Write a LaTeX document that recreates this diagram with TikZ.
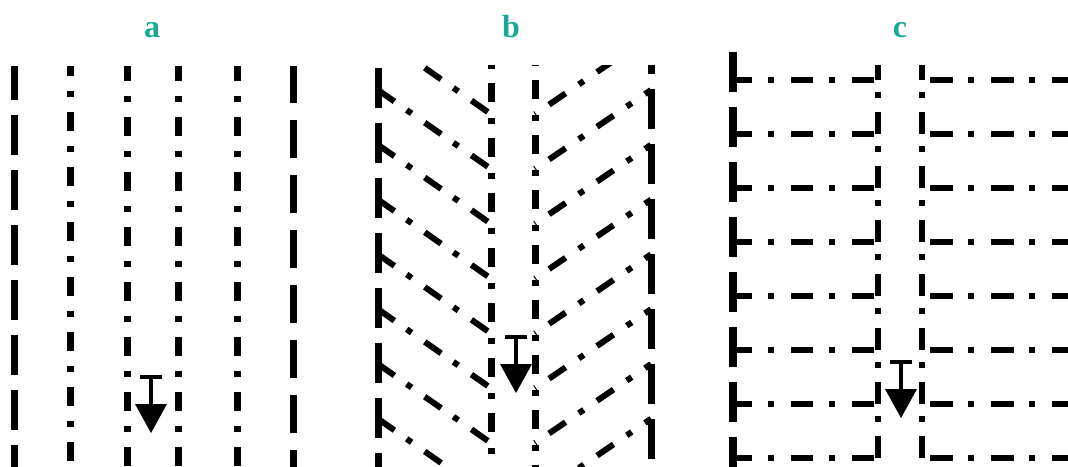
\documentclass[tikz,border=0pt]{standalone}
\usepackage{fontspec}
\setmainfont{Liberation Serif}
\definecolor{labteal}{RGB}{27,168,150}
\begin{document}
\begin{tikzpicture}[x=1pt,y=-1pt,
  ln/.style={line width=7pt},
  thin/.style={line width=6pt},
  lab/.style={text=labteal, font=\fontsize{32}{32}\selectfont\bfseries, anchor=base, inner sep=0pt},
  longdash/.style={ln, dash pattern=on 40pt off 15pt},
  dashdot/.style={ln, dash pattern=on 19pt off 15pt on 6pt off 15pt},
  diagL/.style={thin, dash pattern=on 20pt off 15pt on 6pt off 16pt},
  diagR/.style={thin, dash pattern=on 20pt off 16pt on 6pt off 16pt, dash phase=41pt},
  rowL/.style={thin, dash pattern=on 22pt off 16pt on 6pt off 17pt},
  rowR/.style={thin, dash pattern=on 23pt off 15pt on 6pt off 17pt},
  colC/.style={thin, dash pattern=on 22pt off 12pt on 6pt off 14pt, dash phase=7pt},
  downarrow/.pic={
    \draw[line width=4.5pt] (-11,0) -- (11,0);
    \draw[line width=4.5pt] (0,0) -- (0,29);
    \fill (-16,27) -- (16,27) -- (0,56) -- cycle;
  }]
\useasboundingbox (0,0) rectangle (1068,466);
\clip (0,0) rectangle (1068,466);

% labels
\node[lab] (la) at (152,37) {a};
\node[lab] (lb) at (511,37) {b};
\node[lab] (lc) at (900,37) {c};

% panel a
\begin{scope}
\clip (0,66) rectangle (340,466);
\draw[longdash] (14,60) -- (14,470);
\draw[dashdot] (70,57) -- (70,470);
\draw[dashdot] (127,62) -- (127,470);
\draw[dashdot] (178,62) -- (178,470);
\draw[dashdot] (237,62) -- (237,470);
\draw[longdash, dash pattern=on 38pt off 17pt] (293,65) -- (293,470);
\pic at (151,377) {downarrow};
\end{scope}

% panel b
\begin{scope}
\clip (350,65) rectangle (700,466);
\draw[longdash] (378,68) -- (378,470);
\foreach \k in {-1,...,6}{
  \draw[diagL] (378,{90+54.8*\k}) -- ++(113,79);
  \draw[diagR] (535,{169+54.8*\k}) -- ++(116,-79);
}
\draw[dashdot, dash pattern=on 19pt off 16pt on 6pt off 14pt] (491,28) -- (491,470);
\draw[dashdot, dash pattern=on 19pt off 16pt on 6pt off 14pt] (535,25) -- (535,470);
\draw[longdash] (651,34) -- (651,470);
\pic at (516,337) {downarrow};
\end{scope}

% panel c
\draw[longdash, line width=7.5pt] (733,52) -- (733,470);
\foreach \r in {0,...,7}{
  \draw[rowL] (730,{80+54*\r}) -- (878,{80+54*\r});
  \draw[rowR] (930,{80+54*\r}) -- (1072,{80+54*\r});
}
\draw[colC] (878,65) -- (878,470);
\draw[colC] (922,65) -- (922,470);
\pic at (901,362) {downarrow};
\end{tikzpicture}
\end{document}
